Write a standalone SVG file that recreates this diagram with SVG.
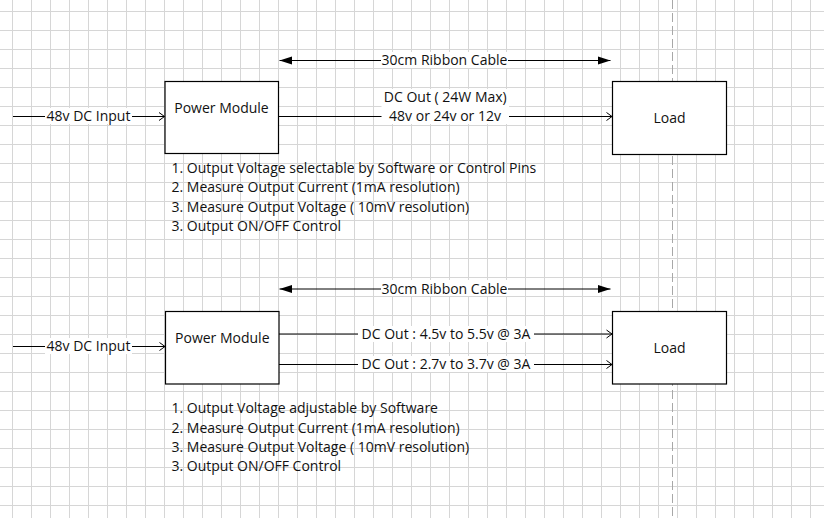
<svg xmlns="http://www.w3.org/2000/svg" width="824" height="518" viewBox="0 0 824 518">
<style>
  text { font-family: "Open Sans", "Noto Sans", "DejaVu Sans", sans-serif; font-size: 14px; fill: #111; }
  .mid { text-anchor: middle; }
  .box { fill: #fff; stroke: #000; stroke-width: 1.2; }
  .conn { stroke: #000; stroke-width: 1; fill: none; }
  .lbl { fill: #fff; stroke: none; }
</style>
<defs>
  <pattern id="grid" x="12" y="11" width="19" height="19" patternUnits="userSpaceOnUse">
    <rect x="0" y="0" width="1" height="19" fill="#d6d6d6"/>
    <rect x="0" y="0" width="19" height="1" fill="#d6d6d6"/>
  </pattern>
  <marker id="open" markerUnits="userSpaceOnUse" markerWidth="8" markerHeight="10" viewBox="0 0 8 10" refX="7" refY="5" orient="auto">
    <path d="M1.5,1 L7,5 L1.5,9" fill="none" stroke="#000" stroke-width="1"/>
  </marker>
  <marker id="fill" markerUnits="userSpaceOnUse" markerWidth="13" markerHeight="9" viewBox="0 0 13 9" refX="12.5" refY="4.5" orient="auto-start-reverse">
    <path d="M0,0.6 L12.5,4.5 L0,8.4 Z" fill="#000"/>
  </marker>
</defs>
<rect width="824" height="518" fill="#fff"/>
<rect width="824" height="518" fill="url(#grid)"/>
<line x1="672.5" y1="0" x2="672.5" y2="518" stroke="#a8a8a8" stroke-width="1" stroke-dasharray="9,4"/>

<g id="connectors">
  <!-- top section -->
  <line class="conn" x1="13" y1="116.5" x2="164.5" y2="116.5" marker-end="url(#open)"/>
  <line class="conn" x1="279.5" y1="60.5" x2="610.5" y2="60.5" marker-start="url(#fill)" marker-end="url(#fill)"/>
  <line class="conn" x1="279" y1="116.5" x2="612" y2="116.5" marker-end="url(#open)"/>
  <!-- bottom section -->
  <line class="conn" x1="13" y1="346.5" x2="165" y2="346.5" marker-end="url(#open)"/>
  <line class="conn" x1="279.5" y1="289" x2="610.5" y2="289" marker-start="url(#fill)" marker-end="url(#fill)"/>
  <line class="conn" x1="279" y1="334" x2="612" y2="334" marker-end="url(#open)"/>
  <line class="conn" x1="279" y1="364.5" x2="612" y2="364.5" marker-end="url(#open)"/>
</g>

<g id="connector-labels">
  <rect class="lbl" x="45" y="108" width="87" height="16"/>
  <text class="mid" x="88.5" y="120.5">48v DC Input</text>
  <rect class="lbl" x="381" y="52" width="127" height="16"/>
  <text class="mid" x="444.5" y="65">30cm Ribbon Cable</text>
  <rect class="lbl" x="381.5" y="89" width="127.5" height="35"/>
  <text class="mid" x="445.3" y="101.7">DC Out ( 24W Max)</text>
  <text class="mid" x="445" y="120.5">48v or 24v or 12v</text>

  <rect class="lbl" x="45" y="338" width="87" height="16"/>
  <text class="mid" x="88.5" y="350.5">48v DC Input</text>
  <rect class="lbl" x="381" y="280" width="127" height="16"/>
  <text class="mid" x="444.5" y="293.5">30cm Ribbon Cable</text>
  <rect class="lbl" x="358" y="326" width="176" height="16"/>
  <text class="mid" x="446" y="338.5">DC Out : 4.5v to 5.5v @ 3A</text>
  <rect class="lbl" x="358" y="356" width="176" height="16"/>
  <text class="mid" x="446" y="368.8">DC Out : 2.7v to 3.7v @ 3A</text>
</g>

<g id="power-module-1">
  <rect class="box" x="165" y="81.5" width="113.5" height="72"/>
  <text class="mid" x="221.5" y="113">Power Module</text>
</g>
<g id="load-1">
  <rect class="box" x="612.5" y="81.5" width="114" height="73"/>
  <text class="mid" x="669.5" y="122.7">Load</text>
</g>
<g id="notes-1">
  <text x="171.5" y="172.5">1. Output Voltage selectable by Software or Control Pins</text>
  <text x="171.5" y="192">2. Measure Output Current (1mA resolution)</text>
  <text x="171.5" y="211.5">3. Measure Output Voltage ( 10mV resolution)</text>
  <text x="171.5" y="231">3. Output ON/OFF Control</text>
</g>

<g id="power-module-2">
  <rect class="box" x="165.5" y="311.5" width="113.5" height="72.5"/>
  <text class="mid" x="222.3" y="343.3">Power Module</text>
</g>
<g id="load-2">
  <rect class="box" x="612.5" y="311.5" width="114" height="72.5"/>
  <text class="mid" x="669.5" y="352.5">Load</text>
</g>
<g id="notes-2">
  <text x="171.5" y="412.7">1. Output Voltage adjustable by Software</text>
  <text x="171.5" y="432.5">2. Measure Output Current (1mA resolution)</text>
  <text x="171.5" y="452">3. Measure Output Voltage ( 10mV resolution)</text>
  <text x="171.5" y="471">3. Output ON/OFF Control</text>
</g>
</svg>
